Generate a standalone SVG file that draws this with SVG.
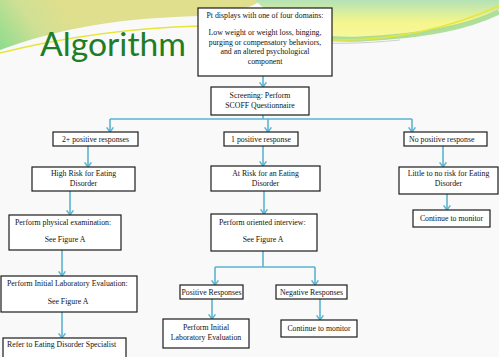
<svg xmlns="http://www.w3.org/2000/svg" width="499" height="357" viewBox="0 0 499 357">
<defs>
<linearGradient id="gl" x1="0" y1="48" x2="60" y2="5" gradientUnits="userSpaceOnUse">
<stop offset="0" stop-color="#8edc8e"/>
<stop offset="0.55" stop-color="#cfe094"/>
<stop offset="1" stop-color="#dfdf8e"/>
</linearGradient>
<linearGradient id="gr" x1="0" y1="0" x2="0" y2="40" gradientUnits="userSpaceOnUse">
<stop offset="0" stop-color="#b4e2b6"/>
<stop offset="0.55" stop-color="#f4f68c"/>
<stop offset="1" stop-color="#f8f8a0"/>
</linearGradient>
<marker id="ah" viewBox="0 0 6 8" markerWidth="6" markerHeight="8" refX="5.2" refY="4" orient="auto" markerUnits="userSpaceOnUse">
<path d="M0.6,0.6 L5.2,4 L0.6,7.4" fill="none" stroke="#5bb4d0" stroke-width="1.5"/>
</marker>
</defs>
<style>
.bx{fill:#ffffff;stroke:#1c1c1c;stroke-width:1.2}
.t{font-family:"Liberation Serif","Times New Roman",serif;font-size:7.8px;fill:#111111}
.c{text-anchor:middle}
.ln{fill:none;stroke:#5bb4d0;stroke-width:1.6}
.ar{fill:none;stroke:#5bb4d0;stroke-width:1.6;marker-end:url(#ah)}
</style>
<rect x="0" y="0" width="499" height="357" fill="#f9f9f9"/>
<g id="background">
<path d="M0,0 L262,0 C250,8 235,14 200,16 C120,18 60,28 0,50 Z" fill="url(#gl)"/>
<path d="M255,0 L499,0 L499,10 C470,24 430,36 360,42 C320,45 285,30 255,0 Z" fill="url(#gr)"/>
<path d="M499,12 C470,26 430,36 360,39 C330,40 320,38 300,36" fill="none" stroke="#a6da92" stroke-width="5" opacity="0.9"/>
<path d="M0,53 C60,38 130,28 200,26 C250,26 290,40 340,40 C400,40 450,28 499,6" fill="none" stroke="#e6e63a" stroke-width="1.4"/>
<path d="M300,42 C330,44 360,44 400,40" fill="none" stroke="#cfcfcf" stroke-width="1"/>
<text x="40" y="56" font-family="Lato,'Open Sans',sans-serif" font-size="33" fill="#1f7d25" textLength="146" lengthAdjust="spacingAndGlyphs">Algorithm</text>
</g>
<g id="connectors">
<path class="ar" d="M263,76 L263,87"/>
<path class="ln" d="M263,115 L263,119 M110,119 L412,119"/>
<path class="ar" d="M110,119 L110,132"/>
<path class="ar" d="M268,119 L268,132"/>
<path class="ar" d="M412,119 L412,132"/>
<path class="ar" d="M88,146 L88,167"/>
<path class="ar" d="M70,191 L70,215"/>
<path class="ar" d="M62,250 L62,276"/>
<path class="ar" d="M62,312 L62,338"/>
<path class="ar" d="M263,146 L263,166"/>
<path class="ar" d="M264,191 L264,214"/>
<path class="ln" d="M263,251 L263,267 M215,267 L315,267"/>
<path class="ar" d="M215,267 L215,285"/>
<path class="ar" d="M315,267 L315,285"/>
<path class="ar" d="M212,299 L212,319"/>
<path class="ar" d="M320,299 L320,320"/>
<path class="ar" d="M443,146 L443,167"/>
<path class="ar" d="M447,194 L447,210"/>
</g>
<g id="n-top">
<rect class="bx" x="198" y="8" width="134" height="68"/>
<text class="t c" x="265" y="18">Pt displays with one of four domains:</text>
<text class="t c" x="265" y="35">Low weight or weight loss, binging,</text>
<text class="t c" x="265" y="44.5">purging or compensatory behaviors,</text>
<text class="t c" x="265" y="54">and an altered psychological</text>
<text class="t c" x="265" y="63.5">component</text>
</g>
<g id="n-scoff">
<rect class="bx" x="211" y="87" width="98" height="28"/>
<text class="t c" x="260" y="97.5">Screening: Perform</text>
<text class="t c" x="260" y="107.5">SCOFF Questionnaire</text>
</g>
<g id="n-two">
<rect class="bx" x="53" y="132" width="85" height="14"/>
<text class="t c" x="95.5" y="141.5">2+ positive responses</text>
</g>
<g id="n-one">
<rect class="bx" x="224" y="132" width="74" height="14"/>
<text class="t c" x="261" y="141.5">1 positive response</text>
</g>
<g id="n-none">
<rect class="bx" x="404" y="132" width="83" height="14"/>
<text class="t" x="409" y="141.5">No positive response</text>
</g>
<g id="n-high">
<rect class="bx" x="32" y="167" width="103" height="24"/>
<text class="t c" x="83.5" y="176">High Risk for Eating</text>
<text class="t c" x="83.5" y="186">Disorder</text>
</g>
<g id="n-atrisk">
<rect class="bx" x="211" y="166" width="109" height="25"/>
<text class="t c" x="265.5" y="175.5">At Risk for an Eating</text>
<text class="t c" x="265.5" y="185.5">Disorder</text>
</g>
<g id="n-little">
<rect class="bx" x="399" y="167" width="99" height="27"/>
<text class="t c" x="448.5" y="176">Little to no risk for Eating</text>
<text class="t c" x="448.5" y="186">Disorder</text>
</g>
<g id="n-phys">
<rect class="bx" x="9" y="215" width="112" height="35"/>
<text class="t" x="15" y="224.5">Perform physical examination:</text>
<text class="t c" x="65" y="242">See Figure A</text>
</g>
<g id="n-interview">
<rect class="bx" x="211" y="214" width="106" height="37"/>
<text class="t" x="219" y="224.5">Perform oriented interview:</text>
<text class="t c" x="263" y="242">See Figure A</text>
</g>
<g id="n-cont-right">
<rect class="bx" x="413" y="210" width="77" height="17"/>
<text class="t c" x="451.5" y="221">Continue to monitor</text>
</g>
<g id="n-lab">
<rect class="bx" x="1" y="276" width="136" height="36"/>
<text class="t" x="7" y="285.5">Perform Initial Laboratory Evaluation:</text>
<text class="t c" x="68" y="303.5">See Figure A</text>
</g>
<g id="n-refer">
<rect class="bx" x="3" y="338" width="123" height="24"/>
<text class="t" x="7" y="347">Refer to Eating Disorder Specialist</text>
</g>
<g id="n-pos">
<rect class="bx" x="180" y="285" width="63" height="14"/>
<text class="t c" x="211.5" y="294.5">Positive Responses</text>
</g>
<g id="n-neg">
<rect class="bx" x="276" y="285" width="71" height="14"/>
<text class="t c" x="311.5" y="294.5">Negative Responses</text>
</g>
<g id="n-perflab">
<rect class="bx" x="163" y="319" width="86" height="29"/>
<text class="t c" x="206" y="329.5">Perform Initial</text>
<text class="t c" x="206" y="339.5">Laboratory Evaluation</text>
</g>
<g id="n-cont-mid">
<rect class="bx" x="281" y="320" width="76" height="17"/>
<text class="t c" x="319" y="331">Continue to monitor</text>
</g>
</svg>
